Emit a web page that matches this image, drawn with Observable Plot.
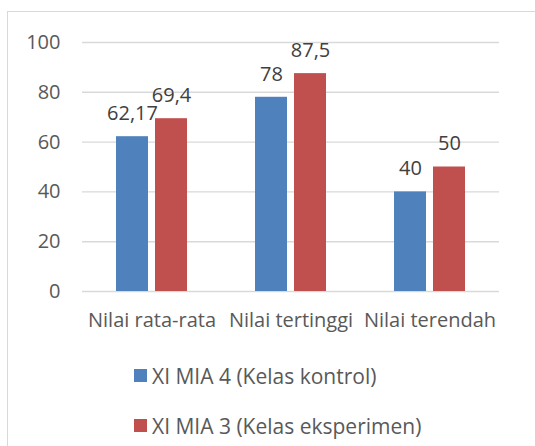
<!DOCTYPE html>
<html>
<head>
<meta charset="utf-8">
<script src="https://cdn.jsdelivr.net/npm/d3@7"></script>
<script src="https://cdn.jsdelivr.net/npm/@observablehq/plot@0.6"></script>
<style>
  html, body { margin: 0; padding: 0; background: #fff; width: 535px; height: 446px; overflow: hidden; }
  #frame { position: absolute; left: 7px; top: 11px; width: 600px; height: 600px;
           border-top: 1.5px solid #d9d9d9; border-left: 1.5px solid #d9d9d9; }
  #chart { position: absolute; left: 0; top: 0; }
  .leg { position: absolute; left: 134px; font-family: "Open Sans", sans-serif; font-size: 21px; color: #595959; white-space: nowrap; }
  .leg .sw { position: absolute; left: 0; width: 13px; height: 13px; }
  .leg .lb { position: absolute; left: 18px; line-height: 24px; }
</style>
</head>
<body>
<div id="frame"></div>
<div id="chart"></div>
<div id="legend"></div>
<script>
const categories = ["Nilai rata-rata", "Nilai tertinggi", "Nilai terendah"];
const series = ["XI MIA 4 (Kelas kontrol)", "XI MIA 3 (Kelas eksperimen)"];
const kontrol = [62.17, 78, 40];
const eksperimen = [69.4, 87.5, 50];
const yTicks = [0, 20, 40, 60, 80, 100];
const colors = ["#4f81bd", "#c0504d"];

const data = [];
categories.forEach((c, i) => {
  data.push({cat: c, series: series[0], value: kontrol[i]});
  data.push({cat: c, series: series[1], value: eksperimen[i]});
});
const fmt = v => String(v).replace(".", ",");

const chart = Plot.plot({
  width: 535,
  height: 345,
  marginTop: 42,
  marginBottom: 54,
  marginLeft: 82,
  marginRight: 36,
  style: {fontFamily: "'Open Sans', sans-serif", fontSize: "20px", color: "#595959", background: "transparent"},
  fx: {domain: categories, padding: 0, label: null, axis: null},
  x: {domain: series, paddingInner: 0.19, paddingOuter: 0.854, axis: null},
  y: {domain: [0, 100], axis: null},
  color: {domain: series, range: colors},
  marks: [
    Plot.ruleY(yTicks, {stroke: "#d9d9d9", strokeWidth: 1.4}),
    Plot.axisY(yTicks, {tickSize: 0, tickPadding: 22, fontSize: 20, label: null, fill: "#595959"}),
    Plot.barY(data, {fx: "cat", x: "series", y: "value", fill: "series"}),
    Plot.text(data, {fx: "cat", x: "series", y: "value", text: d => fmt(d.value), dy: -23, fontSize: 20, fill: "#404040"}),
    Plot.axisFx({anchor: "bottom", tickSize: 0, tickPadding: 21, fontSize: 20, label: null, fill: "#595959"})
  ]
});
document.getElementById("chart").appendChild(chart);

const legendTops = [364, 414];
const legend = document.getElementById("legend");
series.forEach((s, i) => {
  const row = document.createElement("div");
  row.className = "leg";
  row.style.top = legendTops[i] + "px";
  row.innerHTML = `<div class="sw" style="top:5px;background:${colors[i]}"></div><div class="lb">${s}</div>`;
  legend.appendChild(row);
});
</script>
</body>
</html>
